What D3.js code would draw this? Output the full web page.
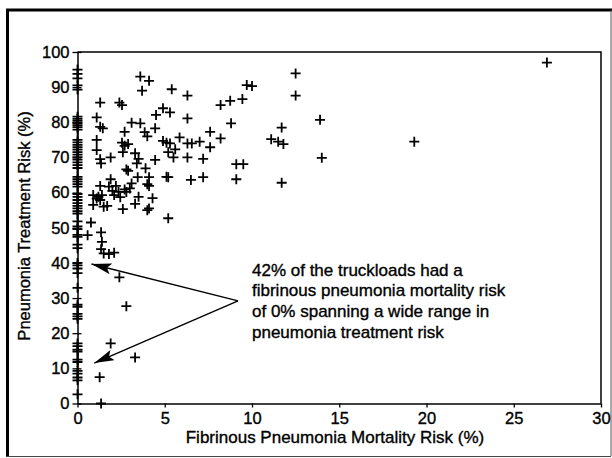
<!DOCTYPE html>
<html>
<head>
<meta charset="utf-8">
<script src="https://cdn.jsdelivr.net/npm/d3@7"></script>
<style>
  body { margin: 0; background: #fff; }
  svg { display: block; font-family: "Liberation Sans", Arial, Helvetica, sans-serif; }
  .ink { stroke: #000; stroke-width: 0.35px; fill: #000; }
</style>
</head>
<body>
<svg id="plot"></svg>
<script>
// truckloads with 0% fibrinous pneumonia mortality risk (treatment risk %)
var zeroMortalityTreatment = [95, 93.8, 92.5, 90.5, 89.3, 81.6, 81.0, 80.4, 79.8, 79.2, 78.6, 77.9,
  75, 74.3, 73.6, 72.9, 72.2, 71.5, 70.8, 70.1, 69.4, 68.6, 67.8, 67, 64.5, 63.8, 63.1, 62.4, 61.7,
  59.6, 58.8, 57.9, 57, 56.2, 55.5, 54.7, 54, 51.8, 50.4, 49.6, 48, 47.4, 45.2, 44.2, 40, 39.3, 38.4,
  37.1, 32.9, 28.1, 27.5, 25.5, 24.8, 24.1, 17.1, 16.3, 15.3, 14.8, 12.5, 11.8, 9.3, 8.5, 7.4, 6.6, 2.6];

// remaining truckloads: mortality risk (%) and treatment risk (%)
var mortality = [3.6, 4.1, 3.7, 1.3, 2.4, 2.55, 1.1, 1.3, 1.45, 1.1, 1.1, 1.3, 1.35, 1.9, 3.1, 3.6, 2.7,
  2.55, 2.7, 2.9, 2.6, 3.3, 3.5, 3.4, 3.85, 4.0, 4.45, 4.45, 2.8, 2.9, 3.9, 5.1, 1.9, 3.45, 3.1, 3.0,
  4.0, 4.1, 4.1, 1.3, 1.8, 2.2, 2.0, 2.35, 2.7, 0.9, 1.2, 1.4, 1.3, 1.1, 0.9, 1.5, 1.7, 2.1, 2.45, 2.8,
  3.5, 4.3, 3.3, 4.0, 4.1, 2.6, 5.2, 0.77, 0.58, 1.35, 1.4, 1.35, 1.5, 1.8, 2.1, 2.4, 2.8, 1.9, 3.3,
  1.27, 1.35, 5.4, 6.3, 9.7, 10.0, 4.9, 5.3, 4.5, 8.2, 8.75, 9.45, 6.3, 8.8, 7.6, 8.2, 5.85, 4.9, 5.1,
  5.3, 6.3, 6.55, 7.0, 5.6, 5.2, 5.5, 7.6, 6.3, 7.2, 9.1, 9.5, 5.2, 6.5, 7.2, 9.1, 12.5, 12.5, 13.9,
  11.7, 11.1, 11.5, 11.8, 14.0, 11.7, 19.3, 26.9];
var treatment = [93.0, 91.8, 89.0, 85.6, 85.6, 84.9, 81.4, 78.7, 78.3, 75.0, 72.1, 69.5, 68.3, 70.0,
  79.9, 79.7, 77.3, 74.2, 73.3, 73.8, 71.5, 71.2, 69.6, 68.3, 77.2, 76.0, 78.3, 69.3, 66.6, 66.2, 66.9,
  64.5, 63.8, 64.4, 62.6, 61.2, 62.4, 61.9, 64.4, 61.9, 61.7, 61.9, 60.5, 60.2, 60.9, 59.3, 58.8, 59.3,
  57.9, 58.3, 56.5, 56.0, 56.2, 59.3, 58.7, 60.2, 58.8, 58.4, 56.8, 55.0, 55.5, 55.3, 52.7, 51.5, 47.9,
  48.7, 46.0, 43.9, 42.7, 42.5, 42.9, 35.9, 27.7, 17.1, 13.1, 7.5, 0, 89.4, 87.6, 90.6, 90.3, 84.0,
  82.8, 82.1, 84.9, 86.1, 86.6, 81.1, 79.7, 77.3, 75.4, 75.7, 74.7, 74.2, 74.0, 74.0, 74.0, 74.5, 72.3,
  71.5, 70.0, 72.9, 70.0, 69.6, 68.1, 68.1, 64.4, 63.6, 64.4, 63.8, 93.9, 87.6, 80.7, 78.5, 75.2, 74.5,
  73.8, 69.9, 62.8, 74.5, 97.0];

var xTicks = [0, 5, 10, 15, 20, 25, 30];
var yTicks = [0, 10, 20, 30, 40, 50, 60, 70, 80, 90, 100];
var xTitle = "Fibrinous Pneumonia Mortality Risk (%)";
var yTitle = "Pneumonia Treatment Risk (%)";
var noteLines = ["42% of the truckloads had a", "fibrinous pneumonia mortality risk",
  "of 0% spanning a wide range in", "pneumonia treatment risk"];

var data = zeroMortalityTreatment.map(function(t) { return [0, t]; })
  .concat(mortality.map(function(m, i) { return [m, treatment[i]]; }));

var W = 612, H = 458;
var svg = d3.select("#plot").attr("width", W).attr("height", H);

// outer frame of the scanned figure
svg.append("line").attr("x1", 7.5).attr("y1", 9).attr("x2", 7.5).attr("y2", 456)
  .attr("stroke", "#000").attr("stroke-width", 3);
svg.append("line").attr("x1", 6).attr("y1", 10).attr("x2", 612).attr("y2", 10)
  .attr("stroke", "#000").attr("stroke-width", 3);
svg.append("line").attr("x1", 611).attr("y1", 10).attr("x2", 611).attr("y2", 456)
  .attr("stroke", "#555").attr("stroke-width", 1);
svg.append("line").attr("x1", 6).attr("y1", 456.5).attr("x2", 611).attr("y2", 456.5)
  .attr("stroke", "#444").attr("stroke-width", 1.2);

var x = d3.scaleLinear().domain([0, 30]).range([77.5, 601]);
var y = d3.scaleLinear().domain([0, 100]).range([403.5, 52]);

// plot box top and right
svg.append("path")
  .attr("d", "M" + x(0) + "," + y(100) + "H" + x(30) + "V" + y(0))
  .attr("fill", "none").attr("stroke", "#000").attr("stroke-width", 1.5);

var gx = svg.append("g")
  .attr("transform", "translate(0," + y(0) + ")")
  .call(d3.axisBottom(x).tickValues(xTicks).tickSize(4).tickSizeOuter(0).tickPadding(5));
var gy = svg.append("g")
  .attr("transform", "translate(" + x(0) + ",0)")
  .call(d3.axisLeft(y).tickValues(yTicks).tickSize(5).tickSizeOuter(0).tickPadding(3));

gy.selectAll(".tick line").attr("x1", 4);
[gx, gy].forEach(function(g) {
  g.select(".domain").attr("stroke", "#000").attr("stroke-width", 1.5);
  g.selectAll(".tick line").attr("stroke", "#000").attr("stroke-width", 1.3);
  g.selectAll(".tick text").attr("class", "ink").style("font-size", "16.5px")
    .style("font-family", "'Liberation Sans', Arial, sans-serif");
});

// axis titles
svg.append("text")
  .attr("class", "ink")
  .attr("x", 335).attr("y", 443)
  .attr("text-anchor", "middle")
  .style("font-size", "17px")
  .text(xTitle);
svg.append("text")
  .attr("class", "ink")
  .attr("transform", "translate(30,226) rotate(-90)")
  .attr("text-anchor", "middle")
  .style("font-size", "16.5px")
  .text(yTitle);

// plus markers
svg.append("g").selectAll("path")
  .data(data)
  .enter()
  .append("path")
  .attr("transform", function(d) { return "translate(" + x(d[0]) + "," + y(d[1]) + ")"; })
  .attr("d", "M-5,0H5M0,-5V5")
  .attr("stroke", "#000")
  .attr("stroke-width", 1.8);

// annotation arrows
var defs = svg.append("defs");
defs.append("marker")
  .attr("id", "head")
  .attr("viewBox", "0 0 20 11")
  .attr("refX", 20).attr("refY", 5.5)
  .attr("markerWidth", 20).attr("markerHeight", 11)
  .attr("markerUnits", "userSpaceOnUse")
  .attr("orient", "auto")
  .append("path").attr("d", "M0,0L20,5.5L0,11L4,5.5Z").attr("fill", "#000");

var arrowFrom = [9.2, 29.2];
var arrowTips = [[0.8, 39.7], [0.96, 11.5]];
arrowTips.forEach(function(t) {
  svg.append("line")
    .attr("x1", x(arrowFrom[0])).attr("y1", y(arrowFrom[1]))
    .attr("x2", x(t[0])).attr("y2", y(t[1]))
    .attr("stroke", "#000").attr("stroke-width", 1.4)
    .attr("marker-end", "url(#head)");
});

var note = svg.append("text")
  .attr("class", "ink")
  .attr("x", x(10.0)).attr("y", 275.7)
  .style("font-size", "17px");
note.selectAll("tspan")
  .data(noteLines)
  .enter()
  .append("tspan")
  .attr("x", x(10.0))
  .attr("dy", function(d, i) { return i === 0 ? 0 : 20.6; })
  .text(function(d) { return d; });
</script>
</body>
</html>
